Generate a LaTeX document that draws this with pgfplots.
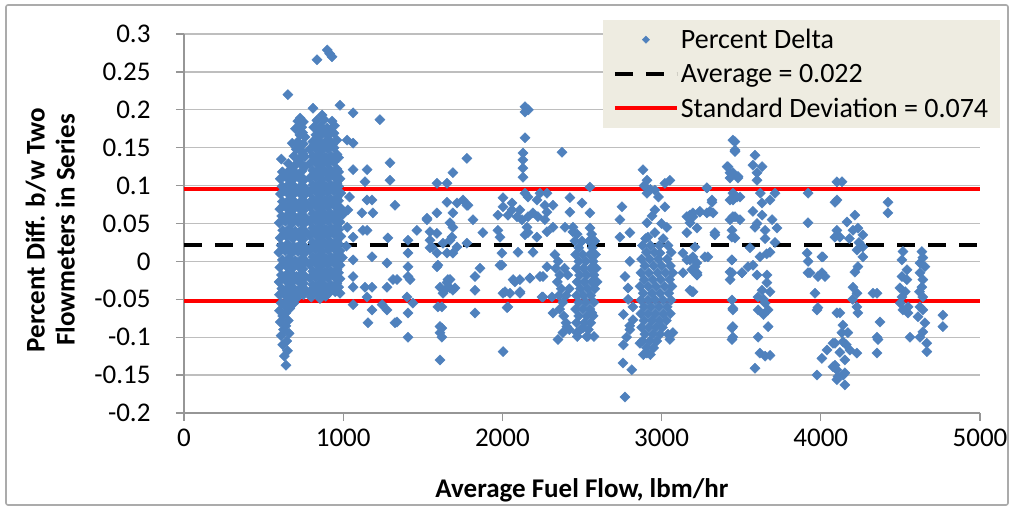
\documentclass[border=0pt]{standalone}
\usepackage{pgfplots}
\pgfplotsset{compat=1.18}
\usepackage{fontspec}
\setmainfont{Carlito}
\definecolor{ptblue}{RGB}{79,129,189}
\definecolor{legfill}{RGB}{238,236,225}
\definecolor{gridgray}{RGB}{190,190,190}
\definecolor{axgray}{RGB}{150,150,150}
\pgfplotsset{lineleg/.style={legend image code/.code={\draw[##1] (0pt,0pt) -- (62pt,0pt);}},
  markleg/.style={legend image code/.code={\draw[mark=square*, mark size=2.6pt, mark options={rotate=45, fill=ptblue, draw=ptblue}] plot coordinates {(31pt,0pt)};}}}
\begin{document}
\begin{tikzpicture}
\useasboundingbox (-184pt,-95pt) rectangle (829pt,413pt);
\draw[axgray!80, line width=1.6pt, rounded corners=2pt] (-178pt,-92pt) rectangle (824pt,408pt);
\begin{axis}[
  scale only axis, width=796pt, height=379pt,
  at={(0pt,0pt)}, anchor=south west,
  xmin=0, xmax=5000, ymin=-0.2, ymax=0.3,
  xtick={0,1000,2000,3000,4000,5000},
  xticklabels={0,1000,2000,3000,4000,5000},
  ytick={-0.2,-0.15,-0.1,-0.05,0,0.05,0.1,0.15,0.2,0.25,0.3},
  yticklabels={-0.2,-0.15,-0.1,-0.05,0,0.05,0.1,0.15,0.2,0.25,0.3},
  axis lines*=left,
  axis line style={axgray, line width=1.3pt},
  ymajorgrids, grid style={gridgray, line width=1.3pt},
  tick align=outside, major tick length=8pt,
  tick style={axgray, line width=1.3pt},
  ticklabel style={font=\fontsize{27}{32}\selectfont, text=black},
  xticklabel style={yshift=-4pt},
  yticklabel style={xshift=-22pt},
  every axis x label/.style={at={(axis description cs:0.5,-0.203)}, anchor=center, font=\bfseries\fontsize{27}{32}\selectfont},
  every axis y label/.style={at={(axis description cs:-0.168,0.483)}, rotate=90, anchor=center, align=center, font=\bfseries\fontsize{27}{30}\selectfont},
  xlabel={Average Fuel Flow, lbm/hr},
  ylabel={Percent Diff. b/w Two\\Flowmeters in Series},
  legend cell align=left,
  legend style={at={(axis description cs:0.526,1.037)}, anchor=north west, fill=legfill, draw=none,
    font=\fontsize{28}{33}\selectfont, inner xsep=10pt, inner ysep=7pt, row sep=10pt},
  clip=false,
]
\addplot[only marks, mark=square*, mark size=3.6pt, mark options={rotate=45, fill=ptblue, draw=ptblue}, markleg]
coordinates {
(640,-0.137) (630,-0.125) (650,-0.118) (620,-0.110) (645,-0.105) (610,-0.098) (660,-0.095) (625,-0.090) (640,-0.085) (605,-0.080) (655,-0.078) (620,-0.072) (640,-0.068) (600,-0.065) (665,-0.062) (630,-0.058) (610,-0.055) (650,-0.052) (680,-0.050) (700,-0.048) (720,-0.045) (690,-0.055) (710,-0.040)
(600,-0.044)(640,-0.046)(675,-0.043)(715,-0.047)(750,-0.044)
(615,-0.036)(655,-0.034)(695,-0.037)(735,-0.035)(765,-0.038)
(598,-0.027)(638,-0.025)(678,-0.028)(718,-0.026)(752,-0.029)
(612,-0.018)(652,-0.016)(692,-0.019)(732,-0.017)(762,-0.020)
(602,-0.008)(642,-0.006)(682,-0.009)(722,-0.007)(748,-0.010)
(618,0.002)(658,0.004)(698,0.001)(738,0.003)(766,0.000)
(596,0.012)(636,0.014)(676,0.011)(716,0.013)(754,0.010)
(610,0.021)(650,0.023)(690,0.020)(730,0.022)(760,0.019)
(604,0.031)(644,0.033)(684,0.030)(724,0.032)(748,0.029)
(620,0.041)(660,0.043)(700,0.040)(740,0.042)(764,0.039)
(598,0.051)(638,0.053)(678,0.050)(718,0.052)(752,0.049)
(614,0.060)(654,0.062)(694,0.059)(734,0.061)(762,0.058)
(602,0.069)(642,0.071)(682,0.068)(722,0.070)(750,0.067)
(618,0.079)(658,0.081)(698,0.078)(738,0.080)(766,0.077)
(606,0.089)(646,0.091)(686,0.088)(726,0.090)(754,0.087)
(616,0.099)(656,0.101)(696,0.098)(736,0.100)(760,0.097)
(604,0.109)(644,0.111)(684,0.108)(724,0.110)(752,0.107)
(618,0.118)(662,0.120)(700,0.117)(740,0.119)
(655,0.129)(695,0.126)(735,0.128)(760,0.125)
(690,0.139)(730,0.136)(758,0.138)
(705,0.148)(742,0.145)
(680,0.156)(715,0.158)(750,0.155)
(728,0.167)(760,0.164)
(700,0.175)(740,0.177)
(715,0.185)(750,0.184)
(730,0.189)(653,0.220)(612,0.135)
(627,-0.040)(667,-0.041)(707,-0.039)(745,-0.042)
(627,-0.021)(667,-0.022)(707,-0.020)(745,-0.023)
(627,-0.002)(667,-0.003)(707,-0.001)(745,-0.004)
(627,0.017)(667,0.016)(707,0.018)(745,0.015)
(627,0.036)(667,0.035)(707,0.037)(745,0.034)
(627,0.055)(667,0.054)(707,0.056)(745,0.053)
(627,0.074)(667,0.073)(707,0.075)(745,0.072)
(627,0.093)(667,0.092)(707,0.094)(745,0.091)
(627,0.112)(667,0.111)(707,0.113)(745,0.110)
(720,0.132)(748,0.142)(722,0.152)(745,0.170)
(800,-0.047)(854,-0.049)(890,-0.046)
(790,-0.040)(830,-0.041)(870,-0.039)(910,-0.042)(950,-0.040)
(809,-0.031)(847,-0.030)(885,-0.032)(923,-0.031)(961,-0.029)
(790,-0.022)(828,-0.021)(866,-0.023)(904,-0.022)(942,-0.020)(980,-0.023)
(809,-0.013)(847,-0.012)(885,-0.014)(923,-0.013)(961,-0.011)
(790,-0.004)(828,-0.003)(866,-0.005)(904,-0.004)(942,-0.002)(980,-0.005)
(809,0.006)(847,0.007)(885,0.005)(923,0.006)(961,0.008)(995,0.005)
(790,0.015)(828,0.016)(866,0.014)(904,0.015)(942,0.017)(980,0.014)
(809,0.025)(847,0.026)(885,0.024)(923,0.025)(961,0.027)
(790,0.034)(828,0.035)(866,0.033)(904,0.034)(942,0.036)(985,0.033)
(809,0.044)(847,0.045)(885,0.043)(923,0.044)(961,0.046)
(790,0.053)(828,0.054)(866,0.052)(904,0.053)(942,0.055)(980,0.052)
(809,0.063)(847,0.064)(885,0.062)(923,0.063)(961,0.065)(998,0.062)
(790,0.072)(828,0.073)(866,0.071)(904,0.072)(942,0.074)(980,0.071)
(809,0.082)(847,0.083)(885,0.081)(923,0.082)(961,0.084)
(790,0.091)(828,0.092)(866,0.090)(904,0.091)(942,0.093)(985,0.090)
(809,0.101)(847,0.102)(885,0.100)(923,0.101)(961,0.103)
(790,0.110)(828,0.111)(866,0.109)(904,0.110)(942,0.112)(980,0.109)
(809,0.120)(847,0.121)(885,0.119)(923,0.120)(961,0.122)
(790,0.129)(828,0.130)(866,0.128)(904,0.129)(942,0.131)
(809,0.139)(847,0.140)(885,0.138)(923,0.139)(961,0.141)
(790,0.148)(828,0.149)(866,0.147)(904,0.148)(942,0.150)
(809,0.158)(847,0.159)(885,0.157)(923,0.158)(961,0.160)
(828,0.167)(866,0.168)(904,0.166)(942,0.169)
(815,0.177)(860,0.178)(900,0.176)(945,0.179)
(835,0.186)(880,0.187)(930,0.185)
(867,0.193)(810,0.202)(980,0.206)
(819,-0.036)(857,-0.037)(895,-0.035)(933,-0.036)(971,-0.034)
(819,-0.017)(857,-0.018)(895,-0.016)(933,-0.017)(971,-0.015)
(819,0.002)(857,0.001)(895,0.003)(933,0.002)(971,0.004)
(819,0.021)(857,0.020)(895,0.022)(933,0.021)(971,0.023)
(819,0.040)(857,0.039)(895,0.041)(933,0.040)(971,0.042)
(819,0.059)(857,0.058)(895,0.060)(933,0.059)(971,0.061)
(819,0.078)(857,0.077)(895,0.079)(933,0.078)(971,0.080)
(819,0.097)(857,0.096)(895,0.098)(933,0.097)(971,0.099)
(819,0.116)(857,0.115)(895,0.117)(933,0.116)(971,0.118)
(819,0.135)(857,0.134)(895,0.136)(933,0.135)(971,0.137)
(819,0.154)(857,0.153)(895,0.155)(933,0.154)
(840,0.173)(880,0.172)(920,0.174)
(835,0.266)(900,0.279)(915,0.274)(930,0.270)
(1062,0.196)(1062,0.156)(1024,0.160)(1062,0.121)(1150,0.121)(1137,0.105)(1150,0.081)(1181,0.081)
(1118,0.064)(1187,0.064)(1294,0.130)(1294,0.107)(1325,0.074)(1150,0.041)(1124,0.041)(1062,0.032)
(1281,0.031)(1181,0.006)(1062,0.002)(1062,-0.020)(1062,-0.034)(1137,-0.034)(1181,-0.034)(1150,-0.047)
(1181,-0.064)(1062,-0.057)(1156,-0.081)(1275,-0.002)(1275,-0.034)(1244,-0.057)(1275,-0.064)(1338,-0.080)
(1313,-0.024)(1338,-0.024)(980,-0.042)(1231,0.187)(1030,0.068)(1040,0.085)(1025,0.045)(1020,0.020)
(1407,0.028)(1407,0.011)(1463,0.041)(1526,0.055)(1407,-0.007)(1407,-0.020)(1401,-0.047)(1438,-0.055)
(1407,-0.068)(1407,-0.100)(1545,0.028)(1545,0.018)(1589,0.037)(1589,0.011)(1627,0.024)(1589,-0.007)
(1589,0.103)(1652,0.103)(1689,0.117)(1652,0.078)(1715,0.077)(1689,0.064)(1689,0.045)(1671,0.028)
(1715,0.019)(1777,0.024)(1777,0.136)(1752,0.081)(1777,0.074)(1815,0.055)(1608,-0.034)(1652,-0.028)
(1689,-0.038)(1671,-0.024)(1627,-0.042)(1620,-0.060)(1620,-0.088)(1620,-0.100)(1608,-0.130)(1608,-0.094)
(1828,-0.020)(1828,-0.038)(1828,-0.068)(1589,0.064)(1652,0.011)
(1526,0.057)(1545,0.039)(1558,0.019)(1595,-0.005)(1595,-0.060)(1608,-0.086)(1671,0.051)(1683,0.032)
(1689,0.011)(1784,0.074)(1658,-0.024)(1671,-0.035)(1639,-0.038)(1702,-0.035)(1420,-0.024)(1325,-0.081)
(1877,0.038)(1859,-0.009)(1972,0.061)(2004,0.072)(2004,0.084)(2035,0.061)(2060,0.068)(2092,0.059)
(2110,0.068)(2123,0.055)(2161,0.059)(2192,0.064)(2223,0.059)(2154,0.045)(2142,0.035)(2161,0.038)
(2098,0.012)(2192,0.012)(1997,0.011)(1985,0.032)(1997,-0.005)(2016,-0.040)(2029,-0.061)(2004,-0.119)
(2067,-0.024)(2110,-0.040)(2173,-0.022)(2255,-0.020)(2255,-0.047)(2142,0.204)(2142,0.197)(2163,0.200)
(2142,0.163)(2129,0.143)(2129,0.134)(2129,0.123)(2129,0.111)(2142,0.090)(2161,0.085)(2236,0.090)
(2267,0.074)(2217,0.081)(2280,0.065)(2280,0.039)(2217,0.032)(2060,0.077)(2004,-0.042)(2110,-0.024)
(2035,-0.060)(2048,-0.042)(2110,-0.042)(2079,-0.027)(2173,-0.022)(2236,-0.020)(2249,-0.047)(1985,-0.005)
(1972,0.041)(2374,0.144)(2550,0.098)(2280,0.090)(2318,0.074)(2424,0.084)(2500,0.077)(2424,0.065)
(2550,0.064)(2318,0.045)(2393,0.045)(2443,0.039)(2267,0.055)(2280,-0.007)(2311,-0.047)(2318,-0.068)
(2349,-0.103)(2380,-0.094)(2405,-0.086)(2468,-0.094)(2537,-0.099)(2506,-0.088)(2562,-0.068)
(2443,0.045)(2550,0.044)
(2470,0.036)(2560,0.036)
(2455,0.027)(2500,0.027)(2545,0.027)(2580,0.027)
(2480,0.018)(2565,0.018)
(2330,0.009)(2460,0.009)(2505,0.009)(2550,0.009)(2585,0.009)
(2350,0.000)(2480,0.000)(2525,0.000)(2570,0.000)
(2335,-0.009)(2390,-0.009)(2465,-0.009)(2510,-0.009)(2555,-0.009)(2590,-0.009)
(2360,-0.018)(2410,-0.018)(2485,-0.018)(2530,-0.018)(2575,-0.018)
(2345,-0.027)(2470,-0.027)(2515,-0.027)(2560,-0.027)(2595,-0.027)
(2370,-0.036)(2420,-0.036)(2490,-0.036)(2535,-0.036)(2580,-0.036)
(2355,-0.045)(2400,-0.045)(2465,-0.045)(2510,-0.045)(2555,-0.045)
(2380,-0.054)(2480,-0.054)(2525,-0.054)(2575,-0.054)
(2360,-0.063)(2460,-0.063)(2505,-0.063)(2550,-0.063)
(2385,-0.072)(2480,-0.072)(2530,-0.072)(2570,-0.072)
(2400,-0.081)(2465,-0.081)(2515,-0.081)(2555,-0.081)
(2420,-0.090)(2490,-0.090)(2540,-0.090)
(2470,-0.099)(2530,-0.099)(2575,-0.099)
(2751,0.072)(2738,0.055)(2801,0.038)(2738,0.032)(2801,0.000)(2789,-0.035)(2820,-0.060)(2820,-0.077)
(2801,-0.090)(2864,-0.108)(2757,-0.134)(2813,-0.143)(2770,-0.179)(2883,0.121)(2908,0.107)(2908,0.090)
(2958,0.094)(3021,0.103)(3052,0.107)(3021,0.072)(2958,0.068)(2908,0.051)(2914,0.032)(2958,0.038)
(3033,0.045)(2990,0.011)(2908,-0.121)(3052,-0.103)(3071,-0.094)(2890,0.100)(2930,0.095)(2980,0.085)
(2940,0.060)(3000,0.050)(2770,-0.020)(2790,-0.050)(2760,-0.070)(2800,-0.085)(2780,-0.100)(2760,-0.110)
(2900,0.030)(3010,0.030)
(2880,0.021)(2930,0.021)(2985,0.021)(3040,0.021)
(2905,0.012)(2955,0.012)(3060,0.012)
(2875,0.003)(2925,0.003)(2980,0.003)(3035,0.003)
(2895,-0.006)(2950,-0.006)(3000,-0.006)(3055,-0.006)
(2870,-0.015)(2920,-0.015)(2975,-0.015)(3025,-0.015)(3070,-0.015)
(2890,-0.024)(2945,-0.024)(2995,-0.024)(3050,-0.024)
(2865,-0.033)(2915,-0.033)(2965,-0.033)(3020,-0.033)(3065,-0.033)
(2885,-0.042)(2940,-0.042)(2990,-0.042)(3045,-0.042)
(2870,-0.051)(2915,-0.051)(2960,-0.051)(3010,-0.051)(3060,-0.051)
(2890,-0.060)(2935,-0.060)(2985,-0.060)(3035,-0.060)
(2870,-0.069)(2915,-0.069)(2960,-0.069)(3010,-0.069)(3055,-0.069)
(2890,-0.078)(2940,-0.078)(2985,-0.078)(3030,-0.078)
(2875,-0.087)(2920,-0.087)(2965,-0.087)(3005,-0.087)
(2895,-0.096)(2945,-0.096)(2990,-0.096)(3040,-0.096)
(2880,-0.105)(2925,-0.105)(2970,-0.105)
(2905,-0.114)(2950,-0.114)
(2885,-0.123)(2930,-0.123)
(3159,0.059)(3197,0.064)(3159,0.038)(3159,0.002)(3190,-0.011)(3178,-0.038)(3222,-0.015)
(3285,0.097)(3316,0.078)(3285,0.064)(3241,0.065)(3178,0.061)(3178,0.051)(3222,0.044)(3134,0.011)
(3178,0.002)(3222,-0.002)(3134,-0.015)(3222,-0.018)(3190,-0.040)(3335,0.038)(3272,0.006)(3323,0.064)
(3411,0.125)(3448,0.160)(3461,0.147)(3430,0.117)(3480,0.110)(3492,0.085)(3448,0.081)(3430,0.055)
(3461,0.059)(3442,0.032)(3442,0.002)(3430,-0.014)(3430,-0.024)(3448,-0.064)(3448,-0.086)(3448,-0.100)
(3505,-0.015)(3543,-0.007)
(3461,0.158)(3461,0.145)(3417,0.125)(3448,0.117)(3480,0.112)(3430,0.110)(3587,0.140)(3574,0.127)
(3631,0.125)(3599,0.117)(3599,0.107)(3448,0.090)(3430,0.081)(3474,0.085)(3316,0.081)(3304,0.066)
(3241,0.066)(3285,0.097)(3197,0.059)(3681,0.081)(3631,0.077)(3712,0.090)(3574,0.066)(3631,0.061)
(3694,0.055)(3725,0.044)(3448,0.059)(3492,0.055)(3442,0.041)(3461,0.031)(3587,0.045)(3650,0.041)
(3335,0.035)(3210,0.019)(3197,0.006)(3210,-0.007)(3291,0.006)(3555,0.018)(3681,0.012)(3712,0.025)
(3618,0.006)(3574,-0.005)(3442,0.002)(3442,-0.015)(3505,-0.015)(3599,-0.018)(3662,-0.018)(3662,-0.028)
(3222,-0.018)(3197,-0.040)(3631,-0.038)(3681,-0.040)(3606,-0.047)(3650,-0.055)(3669,-0.064)(3606,-0.064)
(3442,-0.051)(3448,-0.062)(3442,-0.088)(3442,-0.103)(3669,-0.086)(3606,-0.100)(3618,-0.121)(3681,-0.124)
(3587,-0.141)(3650,-0.125)(3620,0.090)(3650,0.030)(3600,0.050)(3660,0.010)(3640,-0.050)(3640,-0.070)
(3920,0.090)(3920,0.051)(3914,0.011)(3920,0.000)(3932,-0.015)(4007,0.006)(4007,-0.015)(4026,-0.020)
(3963,-0.042)(3976,-0.064)(4101,0.105)(4101,0.081)(4089,0.032)(3976,-0.150)(4007,-0.128)(4039,-0.117)
(4089,-0.108)(4076,-0.139)(4108,-0.152)(4101,-0.068)(3982,-0.020)(3982,-0.061)(4013,0.006)(3920,-0.015)
(4133,0.105)(4089,0.078)(4422,0.078)(4422,0.064)(4164,0.052)(4214,0.061)(4101,0.041)(4120,0.032)
(4233,0.044)(4264,0.035)(4202,0.041)(4264,0.019)(4227,0.015)(4264,0.006)(4233,-0.007)(4214,-0.014)
(4202,-0.034)(4227,-0.042)(4227,-0.060)(4233,-0.068)(4120,-0.068)(4139,-0.084)(4133,-0.094)(4170,-0.094)
(4139,-0.106)(4076,-0.108)(4183,-0.117)(4227,-0.121)(4089,-0.137)(4151,-0.130)(4101,-0.143)(4151,-0.147)
(4101,-0.156)(4151,-0.163)(4353,-0.042)(4372,-0.080)(4359,-0.103)(4353,-0.121)(4328,-0.042)(4353,-0.100)
(4120,-0.120)(4140,-0.150)(4160,-0.110)(4200,-0.050)(4240,0.025)(4180,0.030)
(4516,0.013)(4510,0.002)(4541,-0.011)(4510,-0.020)(4541,-0.024)(4497,-0.035)(4510,-0.047)(4548,-0.060)
(4516,-0.064)(4548,-0.068)(4560,-0.100)(4635,0.013)(4641,0.005)(4623,-0.002)(4654,-0.007)(4623,-0.015)
(4641,-0.024)(4635,-0.034)(4641,-0.047)(4623,-0.060)(4641,-0.064)(4610,-0.073)(4654,-0.081)(4623,-0.100)
(4641,-0.093)(4666,-0.108)(4666,-0.119)(4767,-0.071)(4767,-0.086)(4530,-0.040)(4500,-0.055)(4620,-0.040)
};
\addlegendentry{Percent Delta}
\addplot[black, line width=4pt, dash pattern=on 18pt off 13pt, lineleg]
coordinates {(0,0.022) (5000,0.022)};
\addlegendentry{Average = 0.022}
\addplot[red, line width=4pt, lineleg]
coordinates {(0,0.096) (5000,0.096)};
\addlegendentry{Standard Deviation = 0.074}
\addplot[red, line width=4pt, forget plot] coordinates {(0,-0.052) (5000,-0.052)};
\end{axis}
\end{tikzpicture}
\end{document}
